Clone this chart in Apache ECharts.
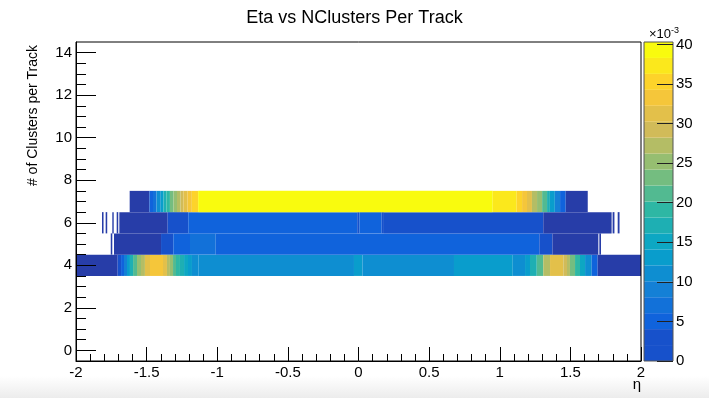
<!DOCTYPE html>
<html>
<head>
<meta charset="utf-8">
<script src="https://cdn.jsdelivr.net/npm/echarts@6/dist/echarts.min.js"></script>
<style>
  html, body { margin: 0; padding: 0; background: #fff; }
  #chart { width: 709px; height: 398px; }
</style>
</head>
<body>
<div id="chart"></div>
<script>
// eta bin edges per NClusters row, contents in units of 1e-3 (0 = empty bin)
var row4Edges = [-2, -1.705, -1.681, -1.66, -1.639, -1.618, -1.596, -1.568, -1.54, -1.512, -1.476,
  -1.384, -1.356, -1.335, -1.313, -1.292, -1.264, -1.235, -1.207, -1.179, -1.134, -0.032, 0.028,
  0.676, 1.092, 1.179, 1.214, 1.262, 1.308, 1.356, 1.45, 1.476, 1.497, 1.533, 1.568, 1.604, 1.651, 1.693, 2];
var row4Values = [1.5, 3, 6, 10, 14, 18, 21, 25, 28, 31, 33, 31, 28, 25, 22, 19, 17, 15, 13, 12, 11,
  13, 11, 13, 11, 14, 18, 22, 27, 31.5, 30, 27, 23, 19, 16, 12, 6, 1.5];

var row5Edges = [-1.754, -1.743, -1.731, -1.398, -1.311, -1.193, -1.011, 1.28, 1.373, 1.698, 1.705, 1.717];
var row5Values = [1, 0, 1.5, 3.5, 5, 6.3, 5, 3.5, 1.5, 0, 1];

var row6Edges = [-1.816, -1.805, -1.79, -1.779, -1.743, -1.733, -1.712, -1.701, -1.693, -1.351, -1.205,
  -0.009, 0.006, 0.164, 0.18, 1.308, 1.792, 1.799, 1.812, 1.835, 1.848];
var row6Values = [1, 0, 1, 0, 1, 0, 1, 0, 1.5, 3, 5, 3.8, 5, 3.8, 3, 1.5, 0, 1, 0, 1];

var row7Edges = [-1.62, -1.48, -1.455, -1.43, -1.4, -1.38, -1.36, -1.335, -1.31, -1.285, -1.26, -1.24,
  -1.21, -1.18, -1.135, 0.95, 1.12, 1.158, 1.193, 1.228, 1.264, 1.3, 1.335, 1.355, 1.39, 1.427, 1.467, 1.623];
var row7Values = [1.2, 5, 8, 11, 14, 17, 20, 23, 26, 28, 30, 32, 34, 36, 39.8, 37.5, 35, 33, 31, 28, 25,
  21, 17, 13, 9, 5, 1.2];

var yLabelValues = [0, 2, 4, 6, 8, 10, 12, 14];
var yMinorValues = [0.5, 1, 1.5, 2.5, 3, 3.5, 4.5, 5, 5.5, 6.5, 7, 7.5, 8.5, 9, 9.5, 10.5, 11, 11.5,
  12.5, 13, 13.5];
var zTickValues = [0, 5, 10, 15, 20, 25, 30, 35, 40];
var zMax = 40.3;
var nLevels = 20;

// ROOT kBird palette
var birdStops = [0, 0.125, 0.25, 0.375, 0.5, 0.625, 0.75, 0.875, 1];
var birdR = [0.2082, 0.0592, 0.0780, 0.0232, 0.1802, 0.5301, 0.8186, 0.9956, 0.9764];
var birdG = [0.1664, 0.3599, 0.5041, 0.6419, 0.7178, 0.7492, 0.7328, 0.7862, 0.9832];
var birdB = [0.5293, 0.8684, 0.8385, 0.7914, 0.6425, 0.4662, 0.3499, 0.1968, 0.0539];

function levelColor(level) {
  var t = Math.min(1, Math.floor((level + 0.99) * 255 / nLevels) / 254);
  var k = 0;
  while (k < birdStops.length - 2 && t > birdStops[k + 1]) k++;
  var f = (t - birdStops[k]) / (birdStops[k + 1] - birdStops[k]);
  var c = function (a) { return Math.round(255 * (a[k] + f * (a[k + 1] - a[k]))); };
  return 'rgb(' + c(birdR) + ',' + c(birdG) + ',' + c(birdB) + ')';
}

function valueLevel(v) {
  return Math.max(0, Math.min(nLevels - 1, Math.floor(0.01 + v * nLevels / zMax)));
}

var cells = [];
[[4, row4Edges, row4Values], [5, row5Edges, row5Values], [6, row6Edges, row6Values], [7, row7Edges, row7Values]]
  .forEach(function (r) {
    for (var k = 0; k < r[2].length; k++) {
      if (r[2][k] > 0) cells.push([r[1][k], r[1][k + 1], r[0], r[2][k]]);
    }
  });

// palette bar bands; the bottom band shows with the second colour in the picture
var bands = [];
for (var i = 0; i < nLevels; i++) {
  bands.push([i * zMax / nLevels, (i + 1) * zMax / nLevels, Math.max(i, 1)]);
}

var font = 'Liberation Sans, Arial, Helvetica, sans-serif';
var tickStyle = { color: '#000', width: 1 };

const option = {
  animation: false,
  backgroundColor: '#fff',
  textStyle: { fontFamily: font },
  title: {
    text: 'Eta vs NClusters Per Track',
    left: 'center',
    top: 4,
    textStyle: { fontFamily: font, fontSize: 18, fontWeight: 'normal', color: '#000' }
  },
  grid: [
    { left: 76, right: 68, top: 42, bottom: 37, show: true, borderColor: '#000', borderWidth: 1, z: 5 },
    { left: 644, width: 29, top: 42, bottom: 37, show: true, borderColor: '#555', borderWidth: 1, z: 5 }
  ],
  xAxis: [
    {
      type: 'value', gridIndex: 0, min: -2, max: 2, interval: 0.5, z: 6,
      axisLine: { show: true, onZero: false, lineStyle: tickStyle },
      axisTick: { show: true, inside: true, length: 14, lineStyle: tickStyle },
      minorTick: { show: true, splitNumber: 5, length: 7, lineStyle: tickStyle },
      splitLine: { show: false },
      axisLabel: { color: '#000', fontSize: 15, margin: 4, fontFamily: font }
    },
    { type: 'value', gridIndex: 1, min: 0, max: 1, show: false }
  ],
  yAxis: [
    {
      type: 'value', gridIndex: 0, min: -0.5, max: 14.5, position: 'left', z: 6,
      axisLine: { show: true, onZero: false, lineStyle: tickStyle },
      axisTick: { show: true, inside: true, length: 20, lineStyle: tickStyle, customValues: yLabelValues },
      splitLine: { show: false },
      axisLabel: { color: '#000', fontSize: 15, margin: 4, fontFamily: font, customValues: yLabelValues }
    },
    {
      type: 'value', gridIndex: 0, min: -0.5, max: 14.5, position: 'left', z: 6,
      axisLine: { show: false, onZero: false },
      axisTick: { show: true, inside: true, length: 10, lineStyle: tickStyle, customValues: yMinorValues },
      splitLine: { show: false },
      axisLabel: { show: false }
    },
    {
      type: 'value', gridIndex: 1, min: 0, max: zMax, position: 'right', z: 6,
      axisLine: { show: false, onZero: false },
      axisTick: { show: true, inside: true, length: 16, lineStyle: { color: '#222', width: 1 }, customValues: zTickValues },
      splitLine: { show: false },
      axisLabel: { color: '#000', fontSize: 15, margin: 3, fontFamily: font, customValues: zTickValues }
    }
  ],
  graphic: [
    {
      type: 'rect', z: -10, silent: true,
      shape: { x: 0, y: 376, width: 709, height: 22 },
      style: {
        fill: { type: 'linear', x: 0, y: 0, x2: 0, y2: 1,
          colorStops: [{ offset: 0, color: '#ffffff' }, { offset: 1, color: '#ececec' }] }
      }
    },
    {
      type: 'text', x: 33, y: 45, rotation: Math.PI / 2, z: 10,
      style: { text: '# of Clusters per Track', font: '14px ' + font, fill: '#000', align: 'right', verticalAlign: 'middle' }
    },
    {
      type: 'text', x: 641, y: 385, z: 10,
      style: { text: 'η', font: '15px ' + font, fill: '#000', align: 'right', verticalAlign: 'middle' }
    },
    {
      type: 'text', x: 679, y: 34, z: 10,
      style: {
        text: '{a|×10}{b|-3}', align: 'right', verticalAlign: 'middle',
        rich: {
          a: { fontSize: 13, fontFamily: font, fill: '#000' },
          b: { fontSize: 9, fontFamily: font, fill: '#000', padding: [0, 0, 7, 0] }
        }
      }
    }
  ],
  series: [
    {
      type: 'custom',
      xAxisIndex: 0,
      yAxisIndex: 0,
      z: 1,
      data: cells,
      encode: { x: [0, 1], y: 2 },
      renderItem: function (params, api) {
        var p0 = api.coord([api.value(0), api.value(2) + 0.5]);
        var p1 = api.coord([api.value(1), api.value(2) - 0.5]);
        return {
          type: 'rect',
          shape: { x: p0[0], y: p0[1], width: p1[0] - p0[0], height: p1[1] - p0[1] },
          style: { fill: levelColor(valueLevel(api.value(3))) }
        };
      }
    },
    {
      type: 'custom',
      xAxisIndex: 1,
      yAxisIndex: 2,
      z: 1,
      data: bands,
      encode: { y: [0, 1] },
      renderItem: function (params, api) {
        var p0 = api.coord([0, api.value(1)]);
        var p1 = api.coord([1, api.value(0)]);
        return {
          type: 'rect',
          shape: { x: p0[0], y: p0[1], width: p1[0] - p0[0], height: p1[1] - p0[1] },
          style: { fill: levelColor(api.value(2)) }
        };
      }
    }
  ]
};

var chart = echarts.init(document.getElementById('chart'));
chart.setOption(option);
</script>
</body>
</html>
